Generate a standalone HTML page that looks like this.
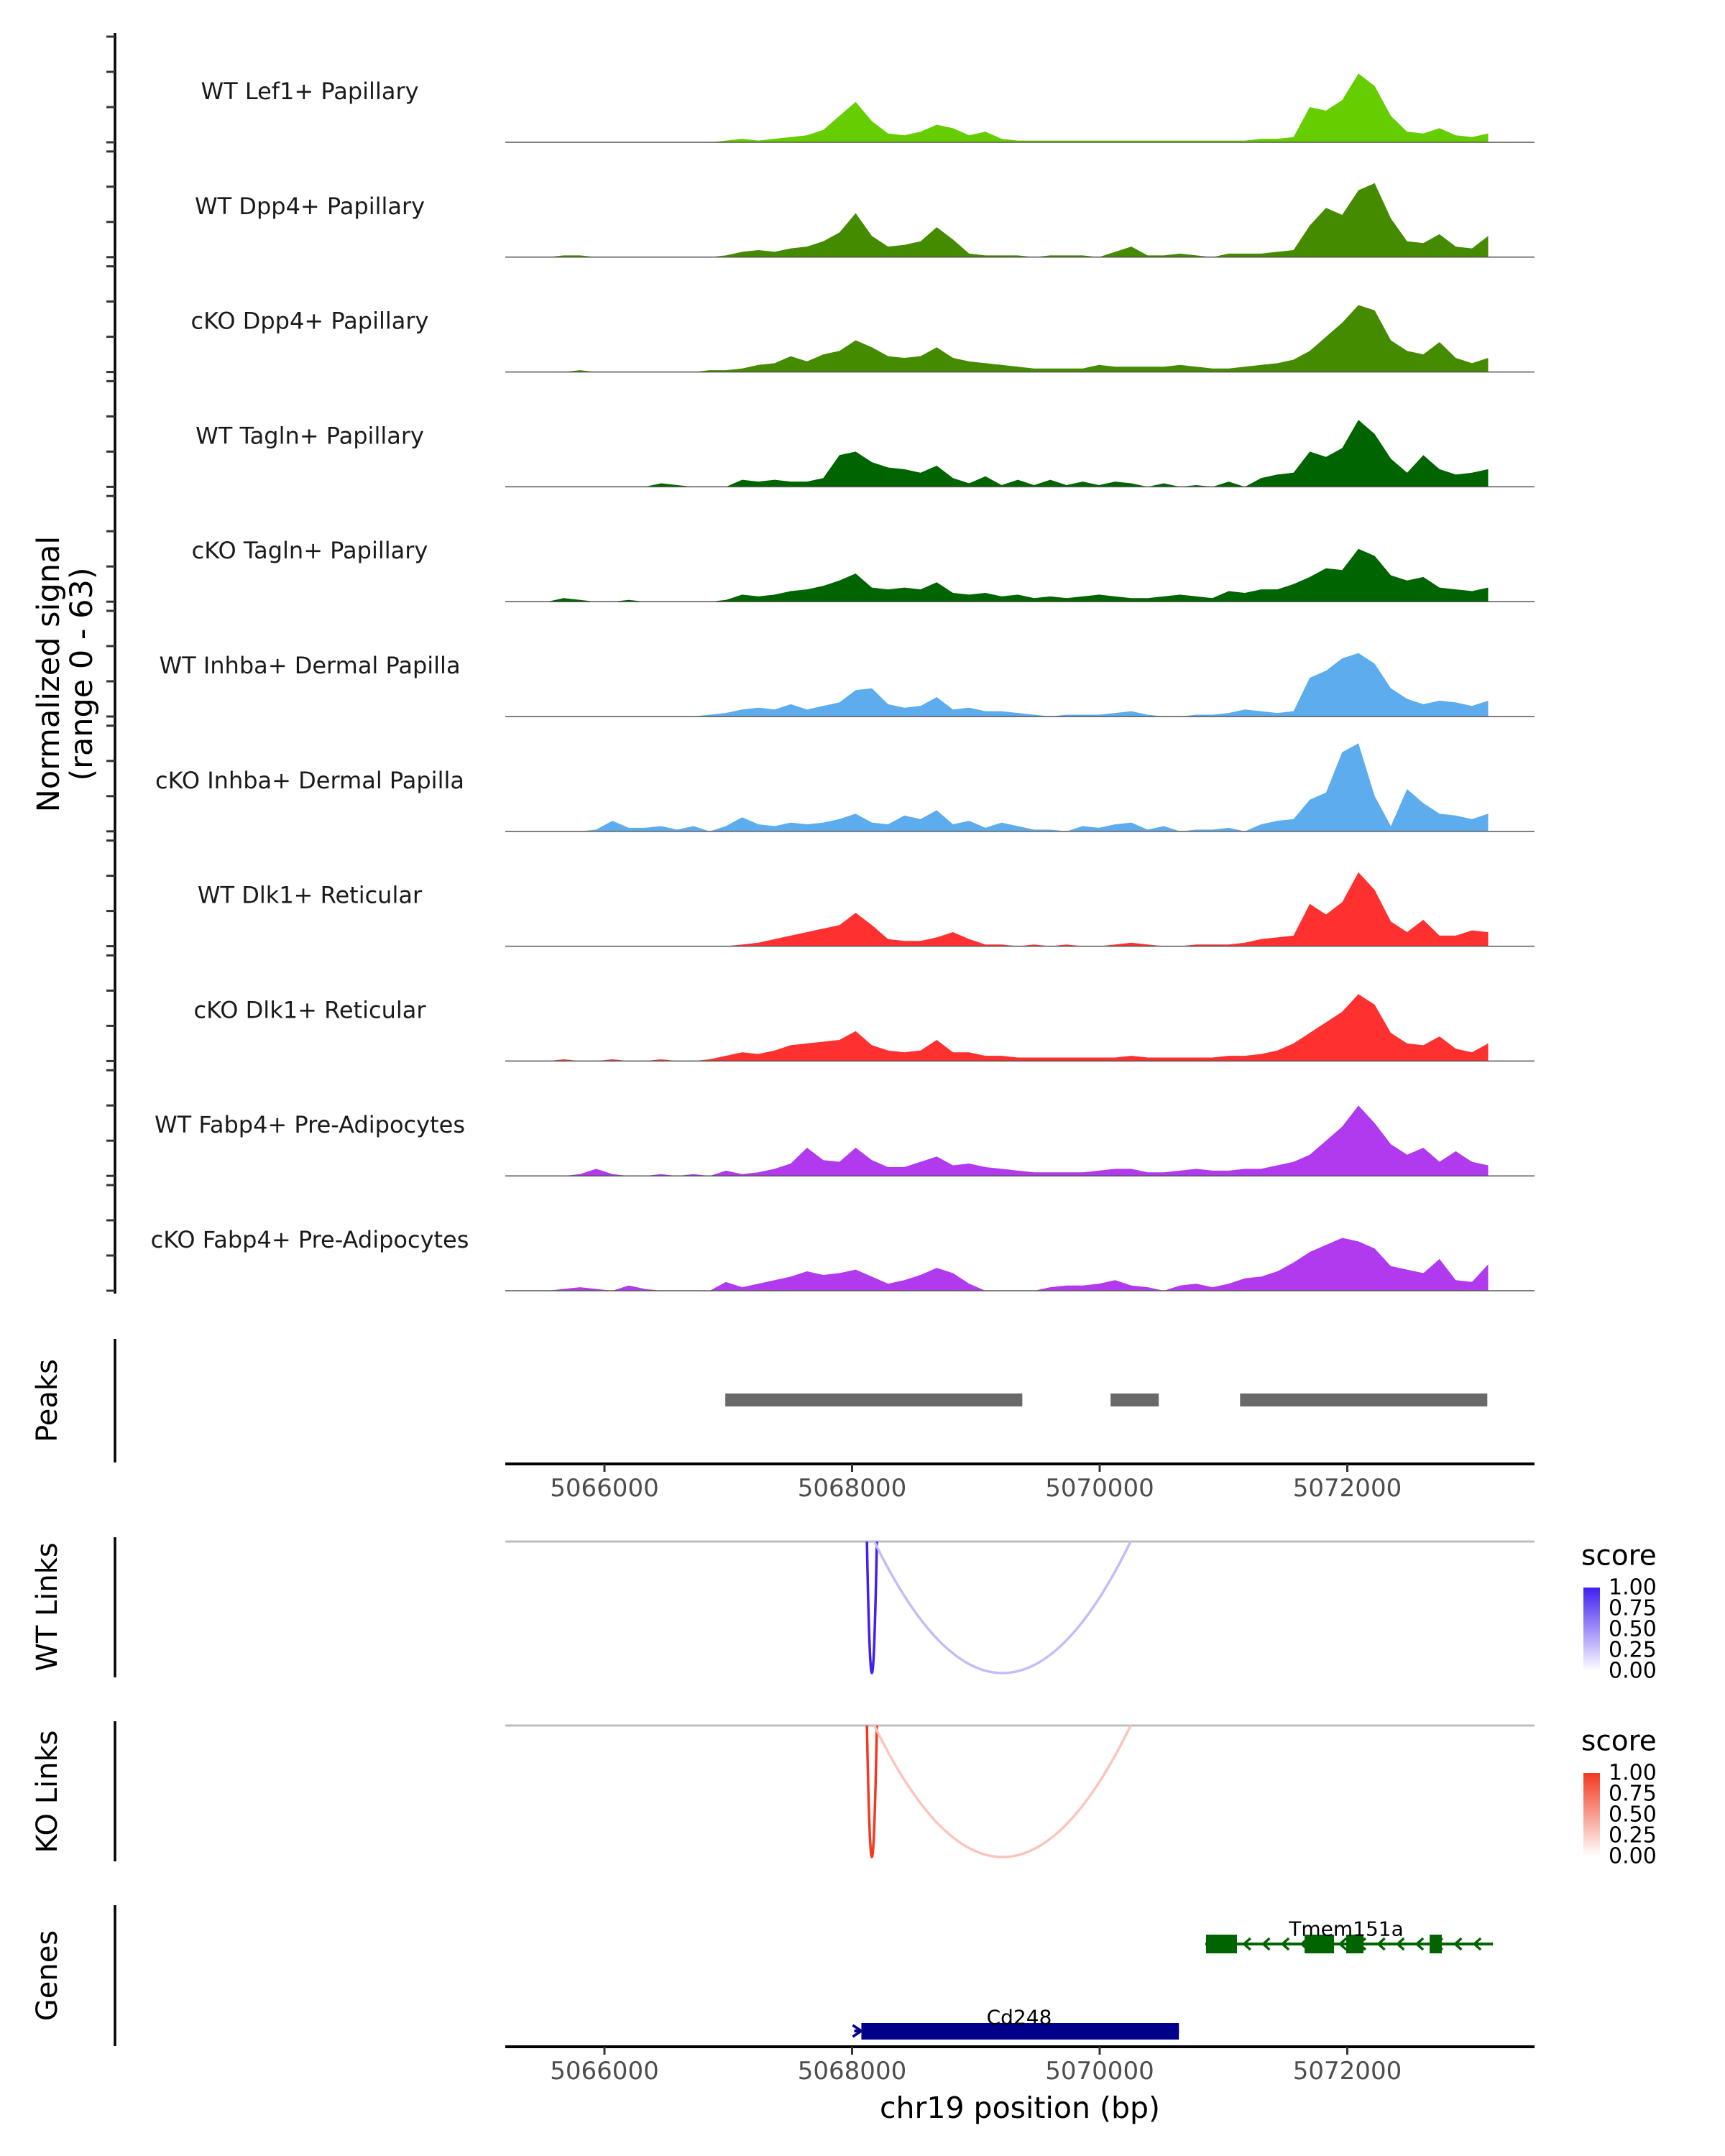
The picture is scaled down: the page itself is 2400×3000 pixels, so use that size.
<!DOCTYPE html>
<html><head><meta charset="utf-8"><style>
html,body{margin:0;padding:0;background:#fff}
svg{display:block;font-family:"DejaVu Sans","Liberation Sans",sans-serif}
</style></head><body>
<svg id="chart" xmlns="http://www.w3.org/2000/svg" width="2400" height="3000" viewBox="0 0 2400 3000">
<rect width="2400" height="3000" fill="#fff"/>
<g id="g"></g>
</svg>
<script>
const trackNames = ["WT Lef1+ Papillary","WT Dpp4+ Papillary","cKO Dpp4+ Papillary","WT Tagln+ Papillary","cKO Tagln+ Papillary","WT Inhba+ Dermal Papilla","cKO Inhba+ Dermal Papilla","WT Dlk1+ Reticular","cKO Dlk1+ Reticular","WT Fabp4+ Pre-Adipocytes","cKO Fabp4+ Pre-Adipocytes"];
const trackColors = ["#66cd00","#458b00","#458b00","#006400","#006400","#5cacee","#5cacee","#ff3030","#ff3030","#b23aee","#b23aee"];
const binStart = 5065540, binStep = 131;
const sLef1 = [0,0,0,0,0,0,0,0,0,0,0,1, 2,1,2,3,4,7,15,23,12,5,4,6,10,8,4,6,2,1, 1,1,1,1,1,1,1,1,1,1,1,1,1,1,2,2,3, 20,18,24,39,32,15,6,5,8,4,3,5];
const sDpp4WT = [0,1,1,0,0,0,0,0,0,0,0,1, 3,4,3,5,6,9,14,25,12,6,7,9,17,10,2,1,1,1, 0,1,1,1,0,3,6,1,1,2,1,0,2,2,2,3,4, 18,28,24,38,42,22,9,8,13,6,5,12];
const sDpp4KO = [0,0,1,0,0,0,0,0,0,0,1,1, 2,4,5,9,6,10,12,18,14,9,8,9,14,8,6,5,4,3, 2,2,2,2,4,3,3,3,3,4,3,2,2,3,4,5,7, 12,20,28,38,35,18,12,10,17,8,5,8];
const sTaglnWT = [0,0,0,0,0,0,0,2,1,0,0,0, 4,3,4,3,3,5,18,20,14,11,10,8,12,5,2,6,1,4, 1,4,1,3,1,3,2,0,2,0,1,0,3,0,5,7,8, 20,17,22,38,30,16,8,18,10,7,8,10];
const sTaglnKO = [0,2,1,0,0,1,0,0,0,0,0,1, 4,3,4,6,7,9,12,16,8,7,8,7,11,5,4,5,3,4, 2,3,2,3,4,3,2,2,3,4,3,2,6,5,7,7,10, 14,19,18,30,26,15,12,14,8,7,6,8];
const sInhbaWT = [0,0,0,0,0,0,0,0,0,0,1,2, 4,5,4,7,4,6,8,15,16,7,5,6,11,4,5,3,3,2, 1,0,1,1,1,2,3,1,0,0,1,1,2,4,3,2,3, 22,26,33,36,30,16,10,7,9,8,6,9];
const sInhbaKO = [0,0,0,1,6,2,2,3,1,3,0,3, 8,4,3,5,4,5,7,10,5,4,9,7,12,4,6,2,5,3, 1,1,0,3,2,4,5,1,3,0,1,1,2,0,4,6,7, 18,22,45,50,20,3,24,16,10,9,7,10];
const sDlk1WT = [0,0,0,0,0,0,0,0,0,0,0,0, 1,2,4,6,8,10,12,19,12,4,3,3,5,8,4,1,1,0, 1,0,1,0,0,1,2,1,0,0,1,1,1,2,4,5,6, 24,18,25,42,32,14,8,15,6,6,9,8];
const sDlk1KO = [0,1,0,0,1,0,0,1,0,0,1,3, 5,4,6,9,10,11,12,17,9,6,5,6,12,5,5,3,3,2, 2,2,2,2,2,2,3,2,2,2,2,2,3,3,4,6,10, 16,22,28,38,32,16,10,9,14,7,5,10];
const sFabp4WT = [0,0,1,4,1,0,0,1,0,1,0,3, 1,2,4,7,16,9,8,16,9,5,5,8,11,6,7,5,4,3, 2,2,2,2,3,4,4,2,2,3,4,3,3,4,4,6,8, 12,20,28,40,30,18,12,16,8,14,8,6];
const sFabp4KO = [0,1,2,1,0,3,1,0,0,0,0,5, 2,4,6,8,11,9,10,12,8,4,6,9,13,10,4,0,0,0, 0,2,3,3,4,6,3,2,0,3,4,2,4,7,8,11,16, 22,26,30,28,24,14,12,10,18,6,5,15];
const signalTicks = [0,20,40,60];
const xTicks = [5066000,5068000,5070000,5072000];
const peakStarts = [5066976,5070088,5071134];
const peakEnds = [5069375,5070477,5073131];
const wtLinkStart = [5068120,5068180];
const wtLinkEnd = [5068200,5070250];
const wtLinkScore = [1.0,0.3];
const koLinkStart = [5068120,5068180];
const koLinkEnd = [5068200,5070250];
const koLinkScore = [1.0,0.3];
const legendTicks = ["1.00","0.75","0.50","0.25","0.00"];
const tmemExonStart = [5070859,5071655,5071991,5072665];
const tmemExonEnd = [5071109,5071893,5072131,5072763];
const tmemStart = 5070853, tmemEnd = 5073176;
const cdStart = 5068075, cdEnd = 5070640;

const series = [sLef1,sDpp4WT,sDpp4KO,sTaglnWT,sTaglnKO,sInhbaWT,sInhbaKO,sDlk1WT,sDlk1KO,sFabp4WT,sFabp4KO];
const NS="http://www.w3.org/2000/svg";
const G=document.getElementById('g');
function X(bp){return 841+(bp-5066000)*0.17225;}
const K=2.45;
function base(i){return 198+i*159.8;}
function el(tag,attrs,parent){const e=document.createElementNS(NS,tag);for(const k in attrs)e.setAttribute(k,attrs[k]);(parent||G).appendChild(e);return e;}
function txt(s,attrs,parent){const e=el('text',attrs,parent);e.textContent=s;return e;}
const PL=703, PR=2135;

const ax=el('line',{x1:160,x2:160,y1:46,y2:1800,stroke:'#000','stroke-width':3.5});


series.forEach((s,ti)=>{
  const b=base(ti);
  signalTicks.forEach(t=>{
    const tk=el('line',{x1:148,x2:160,y1:b-t*K,y2:b-t*K,stroke:'#333','stroke-width':3});
    
    
  });
  let d='M'+X(binStart)+','+b;
  s.forEach((v,i)=>{d+=' L'+X(binStart+binStep*i).toFixed(1)+','+(b-v*K).toFixed(1);});
  d+=' L'+X(binStart+binStep*(s.length-1)).toFixed(1)+','+b+' Z';
  const p=el('path',{d:d,fill:trackColors[ti]});
  
  
  const bl=el('line',{x1:PL,x2:PR,y1:b,y2:b,stroke:'#555','stroke-width':1.5});
  
  
  const lb=txt(trackNames[ti],{x:431,y:b-71,'font-size':32,fill:'#1a1a1a','text-anchor':'middle','dominant-baseline':'central'});
  
  
});
const yt=el('g',{transform:'translate(68,938) rotate(-90)'});


txt('Normalized signal',{x:0,y:0,'font-size':43,'text-anchor':'middle','dominant-baseline':'central'},yt);
txt('(range 0 - 63)',{x:0,y:46,'font-size':43,'text-anchor':'middle','dominant-baseline':'central'},yt);

function sideLabel(s,y,name){
  const g=el('g',{transform:'translate(66,'+y+') rotate(-90)'});
  
  
  txt(s,{x:0,y:0,'font-size':40,'text-anchor':'middle','dominant-baseline':'central'},g);
}
function vAxis(y1,y2,name){
  const l=el('line',{x1:160,x2:160,y1:y1,y2:y2,stroke:'#000','stroke-width':3.5});
  
  
}
vAxis(1863,2035,'peaks-axis-line');
sideLabel('Peaks',1949,'peaks-label');
peakStarts.forEach((s,i)=>{
  const r=el('rect',{x:X(s),y:1939,width:X(peakEnds[i])-X(s),height:18,fill:'#696969'});
  
  
});
function xAxis(y,name){
  const l=el('line',{x1:PL,x2:PR,y1:y,y2:y,stroke:'#000','stroke-width':4});
  
  
  xTicks.forEach(t=>{
    const tk=el('line',{x1:X(t),x2:X(t),y1:y,y2:y+11,stroke:'#333','stroke-width':3});
    
    
    const tl=txt(String(t),{x:X(t),y:y+34,'font-size':34,fill:'#4d4d4d','text-anchor':'middle','dominant-baseline':'central'});
    
    
  });
}
xAxis(2037,'peaks-x-axis');

function hex(c){return [1,3,5].map(i=>parseInt(c.substr(i,2),16));}
function mix(a,b,t){const A=hex(a),B=hex(b);return 'rgb('+A.map((v,i)=>Math.round(v+(B[i]-v)*t)).join(',')+')';}
function links(top,bottom,starts,ends,scores,hi,lo,legY,name){
  const gl=el('line',{x1:PL,x2:PR,y1:top,y2:top,stroke:'#bebebe','stroke-width':3});
  
  
  starts.forEach((s,i)=>{
    const x1=X(s),x2=X(ends[i]);
    const c=mix(lo,hi,scores[i]);
    const cy=top+2*(bottom-top);
    const p=el('path',{d:`M${x1},${top} Q${(x1+x2)/2},${cy} ${x2},${top}`,fill:'none',stroke:c,'stroke-width':3.5});
    
    
  });
  const lt=txt('score',{x:2200,y:legY,'font-size':39,'dominant-baseline':'central'});
  
  
  const gid='grad'+name;
  const defs=el('defs',{});
  const lg=el('linearGradient',{id:gid,x1:0,y1:1,x2:0,y2:0},defs);
  el('stop',{offset:0,'stop-color':'#ffffff'},lg);
  el('stop',{offset:1,'stop-color':hi},lg);
  const r=el('rect',{x:2203,y:legY+44,width:23,height:116,fill:'url(#'+gid+')'});
  
  
  legendTicks.forEach((t,i)=>{
    const ll=txt(t,{x:2238,y:legY+44+i*29,'font-size':30,'dominant-baseline':'central'});
    
    
  });
}
vAxis(2139,2334,'wt-links-axis-line');
sideLabel('WT Links',2236,'wt-links-label');
links(2145,2328,wtLinkStart,wtLinkEnd,wtLinkScore,'#3f1ff2','#ffffff',2165,'wt-links');
vAxis(2395,2590,'ko-links-axis-line');
sideLabel('KO Links',2493,'ko-links-label');
links(2401,2584,koLinkStart,koLinkEnd,koLinkScore,'#f23a20','#ffffff',2423,'ko-links');

vAxis(2651,2847,'genes-axis-line');
sideLabel('Genes',2749,'genes-label');
const tl=el('line',{x1:X(tmemStart),x2:X(tmemEnd),y1:2705,y2:2705,stroke:'#006400','stroke-width':4});


for(let bp=tmemStart+330;bp<tmemEnd;bp+=155){
  const x=X(bp);
  const ch=el('path',{d:`M${x+6},${2697} L${x-3},${2705} L${x+6},${2713}`,fill:'none',stroke:'#006400','stroke-width':3.5});
  
  
}
tmemExonStart.forEach((s,i)=>{
  const r=el('rect',{x:X(s),y:2692,width:X(tmemExonEnd[i])-X(s),height:26,fill:'#006400'});
  
  
});
const tt=txt('Tmem151a',{x:1873,y:2684,'font-size':28,'text-anchor':'middle','dominant-baseline':'central'});


const cl=el('line',{x1:X(cdStart)-10,x2:X(cdEnd),y1:2826,y2:2826,stroke:'#00008b','stroke-width':4});


const cr=el('rect',{x:X(cdStart),y:2815,width:X(cdEnd)-X(cdStart),height:23,fill:'#00008b'});


const cx=el('path',{d:`M${X(cdStart)-12},2818 L${X(cdStart)},2826 L${X(cdStart)-12},2834`,fill:'none',stroke:'#00008b','stroke-width':3.5});


const ct=txt('Cd248',{x:1418,y:2807,'font-size':28,'text-anchor':'middle','dominant-baseline':'central'});


xAxis(2848,'genes-x-axis');
const xt=txt('chr19 position (bp)',{x:1419,y:2933,'font-size':41,'text-anchor':'middle','dominant-baseline':'central'});


</script>
</body></html>
